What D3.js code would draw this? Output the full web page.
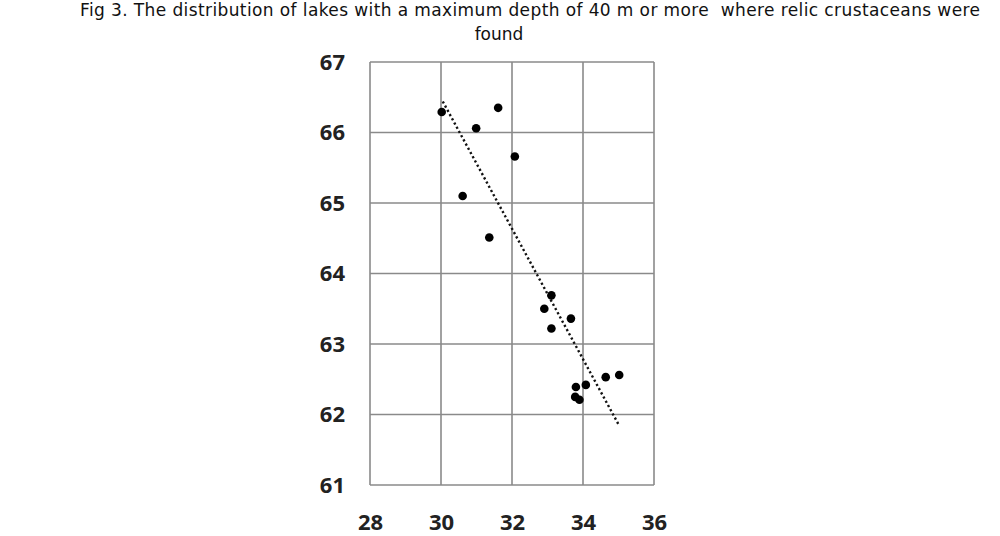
<!DOCTYPE html>
<html>
<head>
<meta charset="utf-8">
<script src="https://cdn.jsdelivr.net/npm/d3@7"></script>
<style>
  body { margin: 0; background: #fff; }
  svg { display: block; }
</style>
</head>
<body>
<div id="chart"></div>
<script>
// title lines
var titleLines = [
    "Fig 3. The distribution of lakes with a maximum depth of 40 m or more  where relic crustaceans were",
    "found"
];

// x = longitude-like value, y = latitude-like value
var xValues = [30.02, 31.61, 30.99, 32.08, 30.61, 31.36, 33.11, 32.91, 33.11, 33.66, 33.80, 34.08, 34.64, 35.02, 33.78, 33.90];
var yValues = [66.29, 66.35, 66.06, 65.66, 65.10, 64.51, 63.69, 63.50, 63.22, 63.36, 62.39, 62.42, 62.53, 62.56, 62.25, 62.21];

// dotted trend line end points
var trendX = [30.05, 35.0];
var trendY = [66.44, 61.86];

var xTicks = [28, 30, 32, 34, 36];
var yTicks = [61, 62, 63, 64, 65, 66, 67];

var width = 1000, height = 536;
var margin = {top: 62, left: 370, right: 346, bottom: 51};
var plotW = width - margin.left - margin.right,
    plotH = height - margin.top - margin.bottom;

var svg = d3.select("#chart").append("svg")
    .attr("width", width)
    .attr("height", height);

// title (first line is stretched a little wider in the original)
svg.append("text")
    .attr("x", 80)
    .attr("y", 16)
    .attr("font-family", "DejaVu Sans")
    .attr("font-size", 17)
    .attr("fill", "#111")
    .attr("textLength", 900)
    .style("white-space", "pre")
    .text(titleLines[0]);

svg.append("text")
    .attr("x", 499)
    .attr("y", 40)
    .attr("text-anchor", "middle")
    .attr("font-family", "DejaVu Sans")
    .attr("font-size", 17)
    .attr("fill", "#111")
    .text(titleLines[1]);

var x = d3.scaleLinear().domain([28, 36]).range([0, plotW]);
var y = d3.scaleLinear().domain([61, 67]).range([plotH, 0]);

var g = svg.append("g")
    .attr("transform", "translate(" + margin.left + "," + margin.top + ")");

// grid
g.append("g")
    .selectAll("line")
    .data(xTicks)
    .enter().append("line")
    .attr("x1", function(d) { return x(d); })
    .attr("x2", function(d) { return x(d); })
    .attr("y1", 0)
    .attr("y2", plotH)
    .attr("stroke", "#8a8a8a")
    .attr("stroke-width", 1.6);

g.append("g")
    .selectAll("line")
    .data(yTicks)
    .enter().append("line")
    .attr("x1", 0)
    .attr("x2", plotW)
    .attr("y1", function(d) { return y(d); })
    .attr("y2", function(d) { return y(d); })
    .attr("stroke", "#8a8a8a")
    .attr("stroke-width", 1.6);

// axes labels (no domain / ticks)
var xAxis = g.append("g")
    .attr("transform", "translate(0," + plotH + ")")
    .call(d3.axisBottom(x).tickValues(xTicks).tickFormat(d3.format("d")).tickSize(0).tickPadding(29));
var yAxis = g.append("g")
    .call(d3.axisLeft(y).tickValues(yTicks).tickFormat(d3.format("d")).tickSize(0).tickPadding(25));

[xAxis, yAxis].forEach(function(a) {
    a.select(".domain").remove();
    a.selectAll("text")
        .attr("font-family", "Open Sans")
        .attr("font-weight", 700)
        .attr("font-size", 22)
        .attr("fill", "#222");
});

// trend line
var trend = trendX.map(function(d, i) { return {x: d, y: trendY[i]}; });
g.append("path")
    .datum(trend)
    .attr("d", d3.line().x(function(d) { return x(d.x); }).y(function(d) { return y(d.y); }))
    .attr("stroke", "#111")
    .attr("stroke-width", 2.4)
    .attr("stroke-dasharray", "2.2,2.6")
    .attr("fill", "none");

// points
var points = xValues.map(function(d, i) { return {x: d, y: yValues[i]}; });
g.append("g")
    .selectAll("circle")
    .data(points)
    .enter().append("circle")
    .attr("cx", function(d) { return x(d.x); })
    .attr("cy", function(d) { return y(d.y); })
    .attr("r", 4.3)
    .attr("fill", "#000");
</script>
</body>
</html>
